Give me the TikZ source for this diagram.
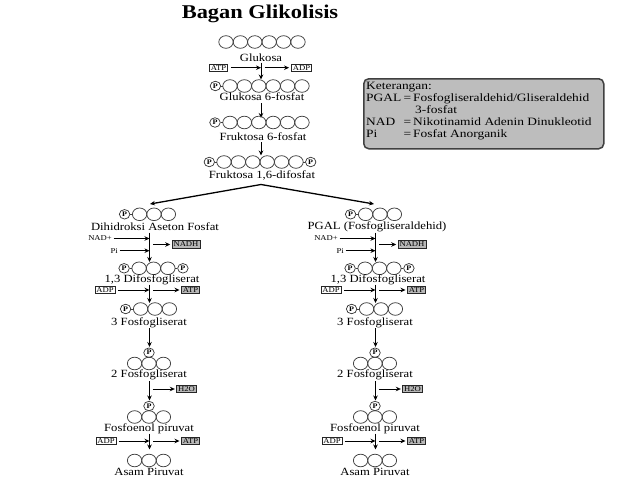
\documentclass[tikz,border=0pt]{standalone}
\usepackage{fontspec}
\setmainfont{Liberation Serif}[FakeStretch=1.15, BoldFont={Liberation Serif Bold}, BoldFeatures={FakeStretch=1.15}]
\newfontfamily\titlefont{Liberation Serif Bold}[FakeStretch=1.15]
\newfontfamily\legfont{Liberation Serif}[FakeStretch=1.2]
\usetikzlibrary{shapes.geometric,arrows.meta}
\tikzset{
 lab/.style={font=\fontsize{11}{12}\selectfont, inner sep=0pt},
 legtext/.style={font=\legfont\fontsize{11.2}{12}\selectfont, inner sep=0pt, anchor=base west},
 smalltext/.style={font=\fontsize{7.5}{8}\selectfont, inner sep=0pt},
 box/.style={draw=black!85, line width=0.6pt, font=\fontsize{7.5}{8}\selectfont, inner xsep=1.5pt, inner ysep=0.6pt, minimum height=7.5pt, fill=white},
 gbox/.style={box, fill=black!28},
 pc/.style={ellipse, draw=black!80, line width=0.7pt, inner sep=0pt, minimum width=10.5pt, minimum height=9.5pt, font=\fontsize{7}{7}\selectfont\bfseries},
 mol/.style={draw=black!75, line width=0.75pt},
 arr/.style={-{Stealth[length=5pt,width=4.5pt]}, line width=1pt},
}
% n circles centred at cx, row y
\newcommand\molchain[3]{%
  \foreach \k in {1,...,#3}{\draw[mol] ({#1+(\k-(#3+1)/2)*14.4},#2) ellipse [x radius=7.2pt, y radius=6.3pt];}%
}
% P + chain : px, cx, y, n, name
\newcommand\pchain[5]{%
  \molchain{#2}{#3}{#4}%
  \node[pc] (#5) at (#1,#3) {P};%
  \draw[mol] (#5.east) -- ({#2-#4*7.2},#3);%
}
% P + chain + P : px, cx, y, n, px2, name
\newcommand\ppchain[6]{%
  \molchain{#2}{#3}{#4}%
  \node[pc] (#6a) at (#1,#3) {P};%
  \node[pc] (#6b) at (#5,#3) {P};%
  \draw[mol] (#6a.east) -- ({#2-#4*7.2},#3);%
  \draw[mol] ({#2+#4*7.2},#3) -- (#6b.west);%
}
\newcommand\glybranch[4]{%
\begin{scope}[xshift=#1pt]
  \pchain{124.6}{154}{214.3}{3}{#4pA}
  \node[lab] (#4lA) at (#3,226.7) {#2};
  \coordinate (#4vAa) at (149.5,232.5); \coordinate (#4vAb) at (149.5,262);
  \draw[arr] (#4vAa) -- (#4vAb);
  \node[smalltext, anchor=east] (#4nad) at (112,238.5) {NAD+};
  \draw[arr] ([xshift=1.5pt]#4nad.east) -- (#4nad -| #4vAa);
  \node[smalltext, anchor=east] (#4pi) at (118,250.7) {Pi};
  \draw[arr] ([xshift=1.5pt]#4pi.east) -- (#4pi -| #4vAa);
  \node[gbox] (#4nadh) at (186,244.5) {NADH};
  \draw[arr] ([xshift=3.5pt]#4nadh -| #4vAa) -- ([xshift=-1.5pt]#4nadh.west);
  \ppchain{124.1}{153.5}{268.3}{3}{182.9}{#4pB}
  \node[lab] (#4lB) at (152,280) {1,3 Difosfogliserat};
  \coordinate (#4vBa) at (149.5,284.5); \coordinate (#4vBb) at (149.5,303);
  \draw[arr] (#4vBa) -- (#4vBb);
  \node[box] (#4adpB) at (105,290) {ADP};
  \node[gbox] (#4atpB) at (190.5,290) {ATP};
  \draw[arr] ([xshift=2.5pt]#4adpB.east) -- (#4adpB -| #4vBa);
  \draw[arr] ([xshift=3.5pt]#4atpB -| #4vBa) -- ([xshift=-1.5pt]#4atpB.west);
  \pchain{125.6}{155}{309}{3}{#4pC}
  \node[lab] (#4lC) at (149,322.7) {3 Fosfogliserat};
  \coordinate (#4vCa) at (149.5,328); \coordinate (#4vCb) at (149.5,347);
  \draw[arr] (#4vCa) -- (#4vCb);
  \node[pc] (#4pD) at (149,352.7) {P};
  \molchain{149}{363.5}{3}
  \node[lab] (#4lD) at (149,375) {2 Fosfogliserat};
  \coordinate (#4vDa) at (149.5,381); \coordinate (#4vDb) at (149.5,400.5);
  \draw[arr] (#4vDa) -- (#4vDb);
  \node[gbox] (#4h2o) at (186.5,389) {H2O};
  \draw[arr] ([xshift=3pt]#4h2o -| #4vDa) -- ([xshift=-1.5pt]#4h2o.west);
  \node[pc] (#4pE) at (149,406) {P};
  \molchain{149}{417}{3}
  \node[lab] (#4lE) at (149,429) {Fosfoenol piruvat};
  \coordinate (#4vEa) at (149.5,433.5); \coordinate (#4vEb) at (149.5,449.5);
  \draw[arr] (#4vEa) -- (#4vEb);
  \node[box] (#4adpE) at (106,441) {ADP};
  \node[gbox] (#4atpE) at (190.5,441) {ATP};
  \draw[arr] ([xshift=2.5pt]#4adpE.east) -- (#4adpE -| #4vEa);
  \draw[arr] ([xshift=3.5pt]#4atpE -| #4vEa) -- ([xshift=-1.5pt]#4atpE.west);
  \molchain{149}{460.5}{3}
  \node[lab] (#4lF) at (149,471.7) {Asam Piruvat};
\end{scope}%
}
\begin{document}
\begin{tikzpicture}[x=1pt,y=-1pt]
\fill[white] (0,0) rectangle (638,479);
\useasboundingbox (0,0) rectangle (638,479);
\node[font=\titlefont\fontsize{19.5}{21}\selectfont, inner sep=0pt] (title) at (260,14) {Bagan Glikolisis};
% glucose
\molchain{262}{42}{6}
\node[lab] (glu) at (261,57.5) {Glukosa};
\coordinate (v1a) at (261,62.5); \coordinate (v1b) at (261,79.5);
\draw[arr] (v1a) -- (v1b);
\node[box] (atp0) at (218.5,67.7) {ATP};
\node[box] (adp0) at (301.5,67.7) {ADP};
\draw[arr] ([xshift=3pt]atp0.east) -- (atp0 -| v1a);
\draw[arr] ([xshift=3.5pt]adp0 -| v1a) -- ([xshift=-2pt]adp0.west);
% glucose 6-P
\pchain{215.4}{266}{86}{6}{pg6}
\node[lab] (g6p) at (262,96.5) {Glukosa 6-fosfat};
\coordinate (v2a) at (261,103); \coordinate (v2b) at (261,118);
\draw[arr] (v2a) -- (v2b);
% fructose 6-P
\pchain{215}{266}{122.5}{6}{pf6}
\node[lab] (f6p) at (263,137) {Fruktosa 6-fosfat};
\coordinate (v3a) at (261,142); \coordinate (v3b) at (261,155.5);
\draw[arr] (v3a) -- (v3b);
% fructose 1,6-bisP
\ppchain{209.3}{260}{162}{6}{310.7}{pf16}
\node[lab] (f16) at (262,175.5) {Fruktosa 1,6-difosfat};
\coordinate (split) at (261,184.5);
\coordinate (leftend) at (150,204);
\coordinate (rightend) at (374,204);
\draw[arr,line width=1.3pt] (split) -- (leftend);
\draw[arr,line width=1.3pt] (split) -- (rightend);
% branches
\glybranch{0}{Dihidroksi Aseton Fosfat}{155}{L}
\glybranch{226}{PGAL (Fosfogliseraldehid)}{151}{R}
% legend
\node[draw=black!75, line width=1.5pt, fill=black!26, rounded corners=5pt, minimum width=240pt, minimum height=70pt, anchor=north west, inner sep=0pt] (legend) at (363,78) {};
\node[legtext] (k0) at (366,89.5) {Keterangan:};
\node[legtext] (k1a) at (366,101.5) {PGAL};
\node[legtext] (k1b) at (403.5,101.5) {=};
\node[legtext] (k1c) at (413,101.5) {Fosfogliseraldehid/Gliseraldehid};
\node[legtext] (k2) at (415,113.5) {3-fosfat};
\node[legtext] (k3a) at (366,125.5) {NAD};
\node[legtext] (k3b) at (403.5,125.5) {=};
\node[legtext] (k3c) at (413,125.5) {Nikotinamid Adenin Dinukleotid};
\node[legtext] (k4a) at (366,137.5) {Pi};
\node[legtext] (k4b) at (403.5,137.5) {=};
\node[legtext] (k4c) at (413,137.5) {Fosfat Anorganik};
\end{tikzpicture}
\end{document}
